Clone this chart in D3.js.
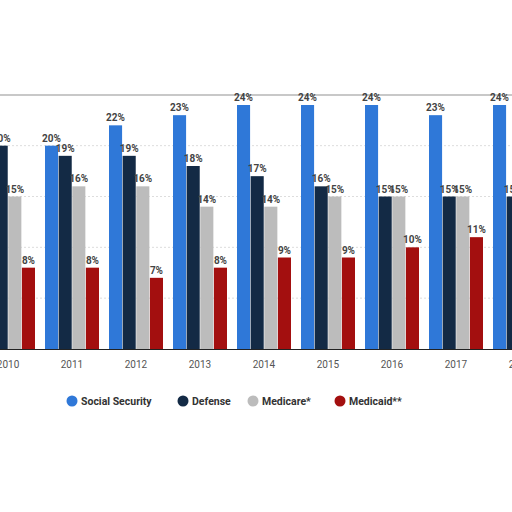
<!DOCTYPE html>
<html><head><meta charset="utf-8">
<script src="https://cdn.jsdelivr.net/npm/d3@7"></script>
<style>body{margin:0;background:#fff}svg{display:block}</style>
</head><body><svg id="c" width="512" height="512"></svg>
<script>
const years = ["2010","2011","2012","2013","2014","2015","2016","2017","2018"];
const series = ["Social Security","Defense","Medicare*","Medicaid**"];
const colors = ["#2f78d8","#132a45","#bcbcbc","#a30f0f"];
const socialSecurity = [20,20,22,23,24,24,24,23,24];
const defense = [20,19,19,18,17,16,15,15,15];
const medicare = [15,16,16,14,14,15,15,15,15];
const medicaid = [8,8,7,8,9,9,10,11,10];
const values = [socialSecurity, defense, medicare, medicaid];

const svg = d3.select("#c");
svg.append("rect").attr("x",0).attr("y",95).attr("width",512).attr("height",290).attr("fill","#fff");
svg.append("line").attr("x1",0).attr("x2",512).attr("y1",95).attr("y2",95).attr("stroke","#c8c8c8").attr("stroke-width",2);

const x0 = d3.scaleBand().domain(years).range([-24, 552]).paddingInner(0);
const x1 = d3.scaleBand().domain(series).range([5, 59]).paddingInner(0.04);
const y = d3.scaleLinear().domain([0,24]).range([349,105]);

[5,10,15,20].forEach(t=>{
  svg.append("line").attr("x1",0).attr("x2",512).attr("y1",y(t)).attr("y2",y(t))
    .attr("stroke","#ddd").attr("stroke-dasharray","2,2");
});

const g = svg.append("g");
years.forEach((yr,i)=>{
  series.forEach((s,j)=>{
    const v = values[j][i];
    const bx = x0(yr)+x1(s);
    g.append("rect").attr("x",bx).attr("y",y(v)).attr("width",x1.bandwidth()).attr("height",349-y(v)).attr("fill",colors[j]);
    g.append("text").attr("x",bx+x1.bandwidth()/2).attr("y",y(v)-4).attr("text-anchor","middle")
      .attr("font-family","Roboto, sans-serif").attr("font-size",10).attr("font-weight","bold").attr("fill","#444").text(v+"%");
  });
});
svg.append("line").attr("x1",0).attr("x2",512).attr("y1",349.5).attr("y2",349.5).attr("stroke","#222");
years.forEach(yr=>{
  svg.append("text").attr("x",x0(yr)+x0.bandwidth()/2).attr("y",368).attr("text-anchor","middle")
    .attr("font-family","Roboto, sans-serif").attr("font-size",10).attr("fill","#555").text(yr);
});
const lx=[72,183,253,340];
series.forEach((s,j)=>{
  svg.append("circle").attr("cx",lx[j]).attr("cy",401).attr("r",5.5).attr("fill",colors[j]);
  svg.append("text").attr("x",lx[j]+9).attr("y",405).attr("font-family","Roboto, sans-serif").attr("font-size",10.5)
    .attr("font-weight","bold").attr("fill","#333").text(s);
});
</script></body></html>
